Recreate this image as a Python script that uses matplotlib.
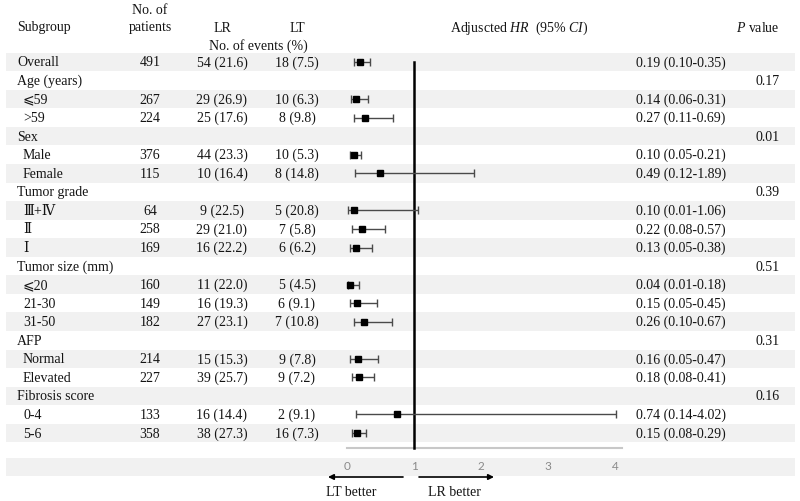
import matplotlib
matplotlib.use("Agg")
import matplotlib.pyplot as plt
import numpy as np

plt.rcParams['font.family'] = ['Liberation Serif', 'DejaVu Serif', 'Noto Sans CJK SC', 'DejaVu Sans']
plt.rcParams['mathtext.fontset'] = 'custom'
plt.rcParams['mathtext.rm'] = 'Liberation Serif'
plt.rcParams['mathtext.it'] = 'Liberation Serif:italic'

# ---- data ----
labels = ["Overall", "Age (years)", "⩽59", ">59", "Sex", "Male", "Female",
          "Tumor grade", "Ⅲ+Ⅳ", "Ⅱ", "Ⅰ", "Tumor size (mm)", "⩽20", "21-30", "31-50",
          "AFP", "Normal", "Elevated", "Fibrosis score", "0-4", "5-6"]
is_category = [False, True, False, False, True, False, False,
               True, False, False, False, True, False, False, False,
               True, False, False, True, False, False]
patients = ["491", "", "267", "224", "", "376", "115", "", "64", "258", "169", "",
            "160", "149", "182", "", "214", "227", "", "133", "358"]
lr_events = ["54 (21.6)", "", "29 (26.9)", "25 (17.6)", "", "44 (23.3)", "10 (16.4)", "",
             "9 (22.5)", "29 (21.0)", "16 (22.2)", "", "11 (22.0)", "16 (19.3)", "27 (23.1)",
             "", "15 (15.3)", "39 (25.7)", "", "16 (14.4)", "38 (27.3)"]
lt_events = ["18 (7.5)", "", "10 (6.3)", "8 (9.8)", "", "10 (5.3)", "8 (14.8)", "",
             "5 (20.8)", "7 (5.8)", "6 (6.2)", "", "5 (4.5)", "6 (9.1)", "7 (10.8)",
             "", "9 (7.8)", "9 (7.2)", "", "2 (9.1)", "16 (7.3)"]
hr = [0.19, None, 0.14, 0.27, None, 0.10, 0.49, None, 0.10, 0.22, 0.13, None,
      0.04, 0.15, 0.26, None, 0.16, 0.18, None, 0.74, 0.15]
ci_low = [0.10, None, 0.06, 0.11, None, 0.05, 0.12, None, 0.01, 0.08, 0.05, None,
          0.01, 0.05, 0.10, None, 0.05, 0.08, None, 0.14, 0.08]
ci_high = [0.35, None, 0.31, 0.69, None, 0.21, 1.89, None, 1.06, 0.57, 0.38, None,
           0.18, 0.45, 0.67, None, 0.47, 0.41, None, 4.02, 0.29]
p_values = ["", "0.17", "", "", "0.01", "", "", "0.39", "", "", "", "0.51", "", "", "",
            "0.31", "", "", "0.16", "", ""]
x_ticks = [0, 1, 2, 3, 4]

# ---- layout ----
W, H = 800, 502
row0_px, row_h = 63.0, 18.55
def px2row(y):
    return (y - row0_px) / row_h
ylim = (px2row(H), px2row(0))

fig = plt.figure(figsize=(W / 100, H / 100), dpi=100)
ax = fig.add_axes([0, 0, 1, 1])
ax.set_xlim(0, W)
ax.set_ylim(*ylim)
ax.axis('off')

fs = 10
tc = '#141414'
n = len(labels)
shade = '#f1f1f1'
for i in range(0, n, 2):
    ax.axhspan(i - 0.5, i + 0.5, xmin=6 / W, xmax=795 / W, color=shade, lw=0, zorder=0)
ax.axhspan(px2row(459), px2row(477), xmin=6 / W, xmax=795 / W, color=shade, lw=0, zorder=0)

# header
ax.text(17, px2row(28), "Subgroup", fontsize=fs, color=tc, va='center', ha='left')
ax.text(150, px2row(10), "No. of", fontsize=fs, color=tc, va='center', ha='center')
ax.text(150, px2row(28), "patients", fontsize=fs, color=tc, va='center', ha='center')
ax.text(222, px2row(28), "LR", fontsize=fs, color=tc, va='center', ha='center')
ax.text(297, px2row(28), "LT", fontsize=fs, color=tc, va='center', ha='center')
ax.text(258, px2row(46), "No. of events (%)", fontsize=fs, color=tc, va='center', ha='center')
ax.text(519, px2row(28), "Adjuscted $HR$  (95% $CI$)", fontsize=fs, color=tc, va='center', ha='center')
ax.text(780, px2row(28), "$P$ value", fontsize=fs, color=tc, va='center', ha='right')

for i in range(n):
    x0 = 17 if (is_category[i] or i == 0) else 23
    ax.text(x0, i, labels[i], fontsize=fs, color=tc, va='center', ha='left')
    ax.text(150, i, patients[i], fontsize=fs, color=tc, va='center', ha='center')
    ax.text(222, i, lr_events[i], fontsize=fs, color=tc, va='center', ha='center')
    ax.text(297, i, lt_events[i], fontsize=fs, color=tc, va='center', ha='center')
    if hr[i] is not None:
        ax.text(681, i, f"{hr[i]:.2f} ({ci_low[i]:.2f}-{ci_high[i]:.2f})",
                fontsize=fs, color=tc, va='center', ha='center')
    if p_values[i]:
        ax.text(780, i, p_values[i], fontsize=fs, color=tc, va='center', ha='right')

# ---- forest axes ----
zero_px, unit_px = 347.0, 67.0
left_px, right_px = 310, 640
fx = fig.add_axes([left_px / W, 0, (right_px - left_px) / W, 1])
fx.patch.set_alpha(0)
fx.set_xlim((left_px - zero_px) / unit_px, (right_px - zero_px) / unit_px)
fx.set_ylim(*ylim)
fx.axis('off')

idx = np.array([i for i in range(n) if hr[i] is not None])
h = np.array([hr[i] for i in idx])
lo = np.array([ci_low[i] for i in idx])
hi = np.array([ci_high[i] for i in idx])
fx.errorbar(h, idx, xerr=[h - lo, hi - h], fmt='none', ecolor='#4a4a4a',
            elinewidth=1.0, capsize=2.6, capthick=1.0, zorder=3)
fx.plot(h, idx, 's', color='black', markersize=5.0, zorder=4, linestyle='none')

axis_row = px2row(449)
fx.plot([1, 1], [0, axis_row], color='black', lw=1.8, zorder=2)
fx.plot([0, 4.1], [axis_row, axis_row], color='#c8c8c8', lw=1.5, zorder=1)
for t in x_ticks:
    fx.text(t, px2row(466), str(t), fontsize=8.5, color='#8a8a8a', ha='center', va='center',
            family=['Lato', 'DejaVu Sans'])

arr_row = px2row(478)
fx.annotate("", xy=(-0.284, arr_row), xytext=(0.836, arr_row),
            arrowprops=dict(arrowstyle='-|>', color='black', lw=1.2, mutation_scale=8,
                            shrinkA=0, shrinkB=0), annotation_clip=False)
fx.annotate("", xy=(2.194, arr_row), xytext=(1.075, arr_row),
            arrowprops=dict(arrowstyle='-|>', color='black', lw=1.2, mutation_scale=8,
                            shrinkA=0, shrinkB=0), annotation_clip=False)
fx.text(0.06, px2row(492), "LT better", fontsize=fs, color=tc, ha='center', va='center')
fx.text(1.61, px2row(492), "LR better", fontsize=fs, color=tc, ha='center', va='center')

fig.savefig("out.png", dpi=100)
